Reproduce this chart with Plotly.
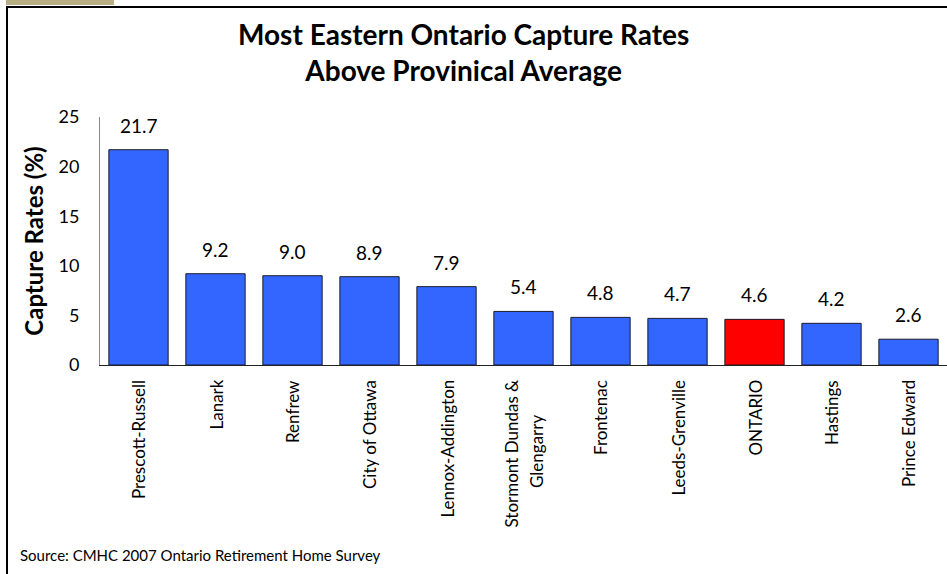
import plotly.graph_objects as go

categories = ["Prescott-Russell", "Lanark", "Renfrew", "City of Ottawa", "Lennox-Addington",
              "Stormont Dundas &<br>Glengarry", "Frontenac", "Leeds-Grenville", "ONTARIO",
              "Hastings", "Prince Edward"]
values = [21.7, 9.2, 9.0, 8.9, 7.9, 5.4, 4.8, 4.7, 4.6, 4.2, 2.6]
highlight = "ONTARIO"
y_ticks = [0, 5, 10, 15, 20, 25]

W, H = 947, 574
L, R, T, B = 100, 0, 117, 209
pw, ph = W - L - R, H - T - B

def px(x):
    return (x - L) / pw

def py(y):
    return (H - B - y) / ph

FONT = "Lato, 'Open Sans', sans-serif"
LABEL_SIZE = 17
CHAR_W = 8.65      # approximate advance per character of the label font
LINE_GAP = 26      # distance between wrapped label lines
STANDOFF = 13

colors = ["#FF0000" if c == highlight else "#3366FF" for c in categories]

fig = go.Figure(go.Bar(
    x=categories, y=values, marker=dict(color=colors, line=dict(color="#1a1a2a", width=1)),
    width=0.77, hoverinfo="skip"))

for c, v in zip(categories, values):
    fig.add_annotation(x=c, y=v, text=f"{v:.1f}", showarrow=False, yanchor="bottom",
                       yshift=11, font=dict(family=FONT, size=19, color="#000"))

# category labels (rotated); wrapped lines centred on the longest line
for c in categories:
    lines = c.split("<br>")
    n = len(lines)
    longest = max(lines, key=len)
    mid = STANDOFF + len(longest) * CHAR_W / 2
    for i, s in enumerate(lines):
        anchored_top = (s == longest)
        fig.add_annotation(x=c, y=0, text=s, showarrow=False,
                           yanchor="top" if anchored_top else "middle",
                           yshift=-STANDOFF if anchored_top else -mid,
                           xshift=(i - (n - 1) / 2) * LINE_GAP, textangle=-90,
                           font=dict(family=FONT, size=LABEL_SIZE, color="#000"))

fig.update_layout(
    width=W, height=H, margin=dict(l=L, r=R, t=T, b=B),
    paper_bgcolor="white", plot_bgcolor="white", showlegend=False,
    font=dict(family=FONT, color="#000"),
    xaxis=dict(showline=True, linecolor="#222", linewidth=1, showticklabels=False,
               ticks="", range=[-0.5, 10.5], fixedrange=True),
    yaxis=dict(range=[0, 25], tickvals=y_ticks, showgrid=False, zeroline=False,
               showline=True, linecolor="#888", linewidth=1, ticks="",
               tickfont=dict(size=18), ticklabelstandoff=16, fixedrange=True,
               title=dict(text="<b>Capture Rates (%)</b>", font=dict(size=24), standoff=8)),
)

fig.add_annotation(xref="paper", yref="paper", x=px(463), y=py(52), yanchor="middle",
                   text="<b>Most Eastern Ontario Capture Rates<br>Above Provinical Average</b>",
                   showarrow=False, font=dict(family=FONT, size=28), align="center")
fig.add_annotation(xref="paper", yref="paper", x=px(18), y=py(555), xanchor="left",
                   yanchor="middle",
                   text="Source: CMHC 2007 Ontario Retirement Home Survey",
                   showarrow=False, font=dict(family=FONT, size=15))

# frame and tab
fig.add_shape(type="rect", xref="paper", yref="paper", x0=px(6), x1=px(114), y0=py(0), y1=py(5),
              fillcolor="#B8AE84", line_width=0, layer="above")
fig.add_shape(type="line", xref="paper", yref="paper", x0=px(6), x1=px(947), y0=py(7), y1=py(7),
              line=dict(color="#000", width=2), layer="above")
fig.add_shape(type="line", xref="paper", yref="paper", x0=px(7), x1=px(7), y0=py(6), y1=py(574),
              line=dict(color="#000", width=2), layer="above")

fig.write_html("out.html", config={"displayModeBar": False},
               post_script="document.body.style.margin='0';document.body.style.overflow='hidden';")
